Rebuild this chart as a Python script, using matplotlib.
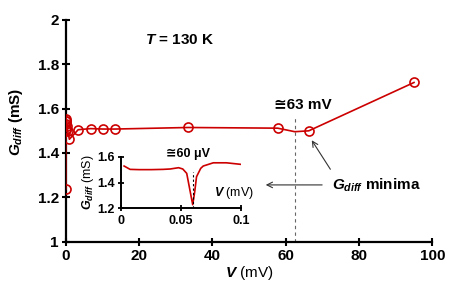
import matplotlib
matplotlib.use('Agg')
import matplotlib.pyplot as plt
from matplotlib.ticker import FormatStrFormatter, FuncFormatter

# main data, G_diff vs V at 130 K
v_pts = [0.0, 0.01, 0.02, 0.04, 0.07, 0.1, 0.2, 0.3, 0.5, 1.0, 3.4, 6.8, 10.2, 13.4, 33.4, 57.8, 66.3, 95.0]
g_pts = [1.238, 1.545, 1.51, 1.505, 1.555, 1.545, 1.53, 1.52, 1.50, 1.462, 1.505, 1.51, 1.508, 1.508, 1.515, 1.512, 1.50, 1.718]
# line trace (has the small dip between the two last low-bias points)
v_line = [0.0, 0.01, 0.02, 0.04, 0.07, 0.1, 0.2, 0.3, 0.5, 1.0, 3.4, 6.8, 10.2, 13.4, 33.4, 57.8, 62.5, 66.3, 95.0]
g_line = [1.238, 1.545, 1.51, 1.505, 1.555, 1.545, 1.53, 1.52, 1.50, 1.462, 1.505, 1.51, 1.508, 1.508, 1.515, 1.512, 1.496, 1.50, 1.718]

# inset, zoom on 0 - 0.1 mV
v_in = [0.0025, 0.0075, 0.015, 0.025, 0.035, 0.041, 0.048, 0.0515, 0.0548, 0.0575, 0.0598, 0.0615, 0.063, 0.0665, 0.0686, 0.077, 0.088, 0.1]
g_in = [1.528, 1.502, 1.50, 1.50, 1.502, 1.505, 1.515, 1.505, 1.471, 1.34, 1.228, 1.33, 1.445, 1.51, 1.528, 1.553, 1.553, 1.541]

red = '#cc0000'

plt.rcParams['font.family'] = ['Liberation Sans', 'DejaVu Sans']
plt.rcParams['font.weight'] = 'bold'
plt.rcParams['mathtext.fontset'] = 'custom'
plt.rcParams['mathtext.rm'] = 'Liberation Sans:bold'
plt.rcParams['mathtext.it'] = 'Liberation Sans:italic:bold'
plt.rcParams['mathtext.bf'] = 'Liberation Sans:bold'

fig = plt.figure(figsize=(4.57, 2.98), dpi=100)
ax = fig.add_axes([0.1438, 0.189, 0.8022, 0.744])

ax.plot(v_line, g_line, color=red, lw=1.2, zorder=3)
ax.plot(v_pts, g_pts, 'o', mfc='none', mec=red, mew=1.2, ms=6.5, zorder=4)

ax.set_xlim(0, 100)
ax.set_ylim(1, 2)
ax.set_xticks([0, 20, 40, 60, 80, 100])
ax.set_yticks([1, 1.2, 1.4, 1.6, 1.8, 2])
ax.yaxis.set_major_formatter(FuncFormatter(lambda x, p: '%g' % x))
for s in ['top', 'right']:
    ax.spines[s].set_visible(False)
for s in ['left', 'bottom']:
    ax.spines[s].set_linewidth(1.6)
ax.tick_params(direction='inout', length=6, width=1.5, labelsize=11, pad=2)
for lb in ax.get_xticklabels() + ax.get_yticklabels():
    lb.set_fontweight('bold')
ax.set_xlabel(r'$V$ (mV)', fontsize=11, labelpad=1, fontweight='normal')
ax.set_ylabel(r'$G_{diff}$ (mS)', fontsize=11, labelpad=5, fontweight='bold')
ax.yaxis.set_label_coords(-0.112, 0.54)

# dashed line at the minimum
ax.plot([62.6, 62.6], [1.0, 1.557], ls=(0, (3, 3)), color='#666666', lw=0.8)
ax.text(64.8, 1.615, '\u224563 mV', ha='center', va='center', fontsize=11, fontweight='bold')
ax.text(31.2, 1.91, r'$T$ = 130 K', ha='center', va='center', fontsize=11, fontweight='bold')
ax.text(72.6, 1.255, r'$G_{diff}$ minima', ha='left', va='center', fontsize=11, fontweight='bold')
ax.annotate('', xy=(66.7, 1.468), xytext=(72.6, 1.316),
            arrowprops=dict(arrowstyle='->', color='#333333', lw=0.8))
ax.annotate('', xy=(53.8, 1.256), xytext=(70.7, 1.256),
            arrowprops=dict(arrowstyle='->', color='#333333', lw=0.8))

# inset
ins = fig.add_axes([0.265, 0.301, 0.262, 0.173])
ins.patch.set_alpha(0)
ins.plot(v_in, g_in, color=red, lw=1.2)
ins.plot([0.0598, 0.0598], [1.2, 1.484], ls=(0, (2, 2)), color='black', lw=0.8)
ins.set_xlim(0, 0.1)
ins.set_ylim(1.2, 1.6)
ins.set_xticks([0, 0.05, 0.1])
ins.set_yticks([1.2, 1.4, 1.6])
ins.xaxis.set_major_formatter(FuncFormatter(lambda x, p: '%g' % x))
ins.yaxis.set_major_formatter(FormatStrFormatter('%.1f'))
for s in ['top', 'right']:
    ins.spines[s].set_visible(False)
for s in ['left', 'bottom']:
    ins.spines[s].set_linewidth(1.4)
ins.tick_params(direction='inout', length=5, width=1.3, labelsize=9, pad=2)
for lb in ins.get_xticklabels() + ins.get_yticklabels():
    lb.set_fontweight('bold')
ins.set_ylabel(r'$G_{diff}$ (mS)', fontsize=9, labelpad=1, fontweight='normal')
ins.text(0.094, 1.316, r'$V$ (mV)', ha='center', va='center', fontsize=9, fontweight='normal')
ins.text(0.056, 1.62, '\u224560 \u03bcV', ha='center', va='center', fontsize=9, fontweight='bold')

fig.savefig('out.png', dpi=100)
